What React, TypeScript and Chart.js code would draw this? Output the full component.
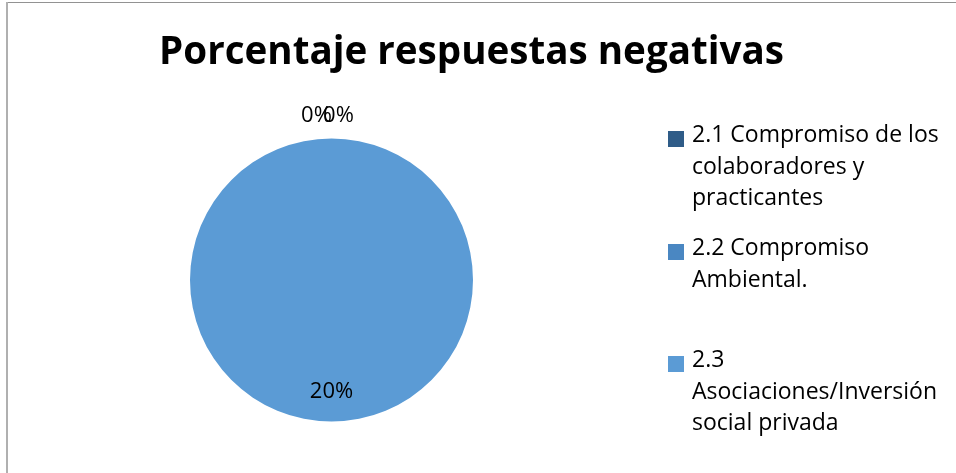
import React, { useEffect, useRef } from "react";
import { Chart, registerables } from "chart.js";

Chart.register(...registerables);

const chartTitle = "Porcentaje respuestas negativas";
const categories = [
  "2.1 Compromiso de los colaboradores y practicantes",
  "2.2 Compromiso Ambiental.",
  "2.3 Asociaciones/Inversión social privada",
];
const legendLines = [
  ["2.1 Compromiso de los", "colaboradores y", "practicantes"],
  ["2.2 Compromiso", "Ambiental."],
  ["2.3", "Asociaciones/Inversión", "social privada"],
];
const values = [0, 0, 20];
const colors = ["#2F5C88", "#4A87C2", "#5B9BD5"];

const FONT = "'Open Sans', Lato, sans-serif";

const labelPlugin = {
  id: "pieLabels",
  afterDraw(chart: any) {
    const ctx = chart.ctx;
    const meta = chart.getDatasetMeta(0);
    ctx.save();
    ctx.font = `22px ${FONT}`;
    ctx.fillStyle = "#000";
    ctx.textAlign = "center";
    ctx.textBaseline = "middle";
    let zeroIdx = 0;
    meta.data.forEach((arc: any, i: number) => {
      const v = values[i];
      const { x, y, outerRadius, startAngle, endAngle } = arc.getProps(
        ["x", "y", "outerRadius", "startAngle", "endAngle"],
        true
      );
      const text = `${v}%`;
      if (v > 0) {
        const mid = (startAngle + endAngle) / 2;
        const r = outerRadius * 0.79;
        ctx.fillText(text, x + Math.cos(mid) * r, y + Math.sin(mid) * r);
      } else {
        const dx = -15 + zeroIdx * 22;
        ctx.fillText(text, x + dx, y - outerRadius - 23);
        zeroIdx++;
      }
    });
    ctx.restore();
  },
};

export default function App() {
  const ref = useRef<HTMLCanvasElement | null>(null);

  useEffect(() => {
    if (!ref.current) return;
    const chart = new Chart(ref.current, {
      type: "pie",
      data: {
        labels: categories,
        datasets: [
          {
            data: values,
            backgroundColor: colors,
            borderWidth: 0,
          },
        ],
      },
      options: {
        responsive: false,
        animation: false,
        layout: { padding: { left: 190, right: 483, top: 138, bottom: 51 } },
        plugins: {
          legend: { display: false },
          tooltip: { enabled: false },
          title: { display: false },
        },
      },
      plugins: [labelPlugin],
    });
    return () => chart.destroy();
  }, []);

  const lineH = 31.6;
  const entryTops = [118.3, 231.3, 343.3];

  return (
    <div
      style={{
        position: "fixed",
        left: 0,
        top: 0,
        width: 956,
        height: 473,
        background: "#fff",
        overflow: "hidden",
        fontFamily: FONT,
        fontVariantLigatures: "none",
      }}
    >
      <div style={{ position: "absolute", left: 6, top: 2, width: 950, height: 1, background: "#929292" }} />
      <div style={{ position: "absolute", left: 6, top: 2, width: 2, height: 471, background: "#b0b0b0" }} />
      <canvas ref={ref} width={956} height={473} style={{ position: "absolute", left: 0, top: 0 }} />
      <div
        style={{
          position: "absolute",
          left: 0,
          width: 943,
          top: 29.8,
          textAlign: "center",
          fontSize: 38.6,
          lineHeight: "38.6px",
          fontWeight: 700,
          color: "#000",
          whiteSpace: "nowrap",
        }}
      >
        {chartTitle}
      </div>
      {legendLines.map((lines, i) => (
        <div key={i} style={{ position: "absolute", left: 668, top: entryTops[i] }}>
          <div
            style={{
              position: "absolute",
              left: 0,
              top: 12.7,
              width: 16,
              height: 16,
              background: colors[i],
            }}
          />
          {lines.map((t, j) => (
            <div
              key={j}
              style={{
                position: "absolute",
                left: 24,
                top: j * lineH,
                fontSize: 23,
                lineHeight: `${lineH}px`,
                whiteSpace: "nowrap",
                color: "#000",
              }}
            >
              {t}
            </div>
          ))}
        </div>
      ))}
    </div>
  );
}
